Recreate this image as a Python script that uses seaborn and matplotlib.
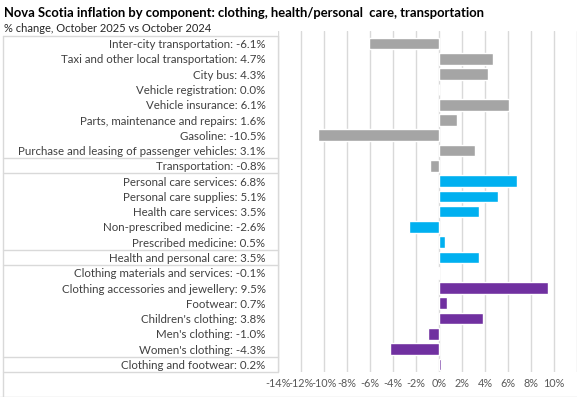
import matplotlib.pyplot as plt
import pandas as pd
import seaborn as sns
from matplotlib.lines import Line2D

# data (top to bottom)
transport = ["Inter-city transportation", "Taxi and other local transportation", "City bus",
             "Vehicle registration", "Vehicle insurance", "Parts, maintenance and repairs",
             "Gasoline", "Purchase and leasing of passenger vehicles", "Transportation"]
transport_vals = [-6.1, 4.7, 4.3, 0.0, 6.1, 1.6, -10.5, 3.1, -0.8]

health = ["Personal care services", "Personal care supplies", "Health care services",
          "Non-prescribed medicine", "Prescribed medicine", "Health and personal care"]
health_vals = [6.8, 5.1, 3.5, -2.6, 0.5, 3.5]

clothing = ["Clothing materials and services", "Clothing accessories and jewellery", "Footwear",
            "Children's clothing", "Men's clothing", "Women's clothing", "Clothing and footwear"]
clothing_vals = [-0.1, 9.5, 0.7, 3.8, -1.0, -4.3, 0.2]

x_ticks = [-14, -12, -10, -8, -6, -4, -2, 0, 2, 4, 6, 8, 10, 12]
colors = {"transport": "#A5A5A5", "health": "#00B0F0", "clothing": "#7030A0"}

df = pd.DataFrame({
    "name": transport + health + clothing,
    "value": transport_vals + health_vals + clothing_vals,
    "group": ["transport"] * len(transport) + ["health"] * len(health) + ["clothing"] * len(clothing),
})
df["label"] = [f"{n}: {v:.1f}%" for n, v in zip(df["name"], df["value"])]

sns.set_style("white")
plt.rcParams['font.family'] = ['Lato', 'DejaVu Sans']
plt.rcParams['axes.unicode_minus'] = False

fig = plt.figure(figsize=(5.77, 3.97), dpi=100)
ax = fig.add_axes([278 / 577, 1 - 372 / 397, 299 / 577, 341 / 397])

sns.barplot(data=df, x="value", y="label", hue="group", palette=colors, dodge=False,
            orient="h", width=0.76, saturation=1, legend=False, ax=ax, zorder=3)

n = len(df)
row_px = 15.27
ax.set_ylim(n - 0.5, -0.5 - 5 / row_px)
ax.set_xlim(-14, 12)
ax.set_xticks(x_ticks)
ax.set_xticklabels([f"{t}%" if t <= 10 else "" for t in x_ticks], fontsize=7.8, color="#595959")
ax.tick_params(axis="x", length=0, pad=4)
ax.tick_params(axis="y", length=0, pad=9, labelsize=8.3, labelcolor="#404040")
ax.set_xlabel("")
ax.set_ylabel("")
for s in ax.spines.values():
    s.set_visible(False)
ax.grid(axis="x", color="#D9D9D9", linewidth=1, zorder=0)

# table-like separators on the category labels
sizes = [len(transport) - 1, 1, len(health) - 1, 1, len(clothing) - 1, 1]
bounds = [-0.5]
for s in sizes:
    bounds.append(bounds[-1] + s)
x0 = -(278 - 3) / 299
for b in bounds:
    ax.plot([x0, 0], [b, b], transform=ax.get_yaxis_transform(), color="#D9D9D9",
            linewidth=1, clip_on=False)
ax.plot([x0, x0], [-0.5, n - 0.5 + 25 / row_px], transform=ax.get_yaxis_transform(),
        color="#D9D9D9", linewidth=1, clip_on=False)
ax.plot([0, 0], [-0.5, n - 0.5], transform=ax.get_yaxis_transform(),
        color="#D9D9D9", linewidth=1, clip_on=False)
fig.add_artist(Line2D([0, 1], [0.5 / 397, 0.5 / 397], color="#D9D9D9", linewidth=1))

fig.text(4 / 577, 1 - 13 / 397, "Nova Scotia inflation by component: clothing, health/personal  care, transportation",
         fontsize=9.4, fontweight="bold", va="center", ha="left", color="black")
fig.text(4 / 577, 1 - 28 / 397, "% change, October 2025 vs October 2024",
         fontsize=8.0, va="center", ha="left", color="#262626")

fig.savefig("out.png", dpi=100)
